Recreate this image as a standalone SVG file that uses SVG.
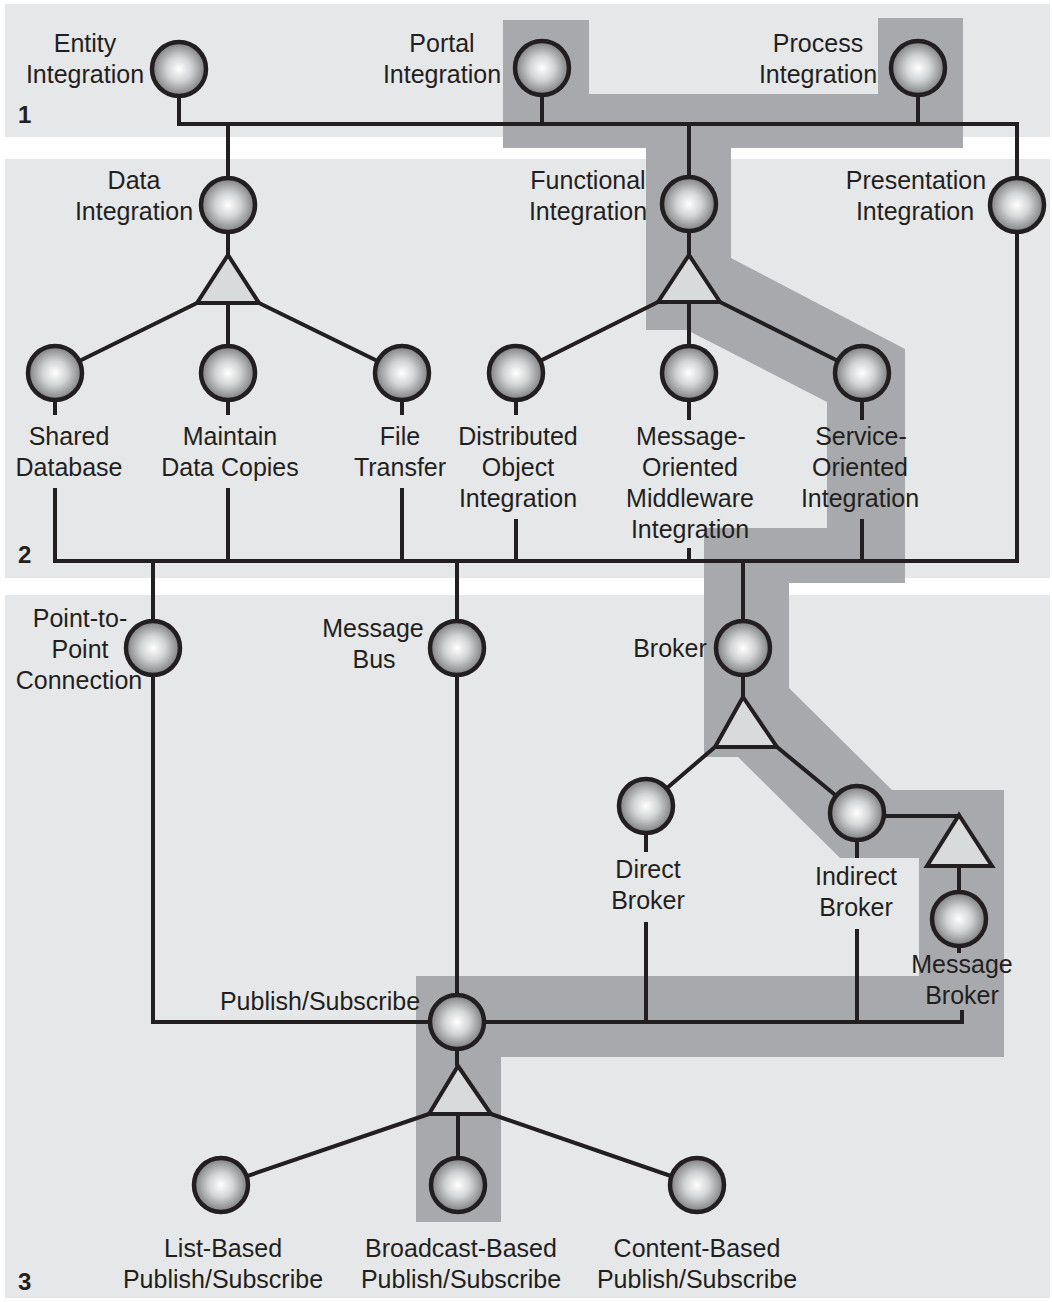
<svg xmlns="http://www.w3.org/2000/svg" width="1052" height="1302" viewBox="0 0 1052 1302">
<defs>
<radialGradient id="ball" cx="0.5" cy="0.5" r="0.5">
<stop offset="0" stop-color="#ffffff"/>
<stop offset="0.45" stop-color="#d3d4d5"/>
<stop offset="1" stop-color="#7c7d80"/>
</radialGradient>
<style>
.panel{fill:#e6e7e8}
.band{fill:#a7a9ac}
.ln{fill:none;stroke:#231f20;stroke-width:4;stroke-linejoin:miter}
.nd{fill:url(#ball);stroke:#231f20;stroke-width:4.5}
.tri{fill:#d9dadc;stroke:#231f20;stroke-width:4;stroke-linejoin:miter}
.t{font-family:"Liberation Sans",Arial,Helvetica,sans-serif;font-size:25px;fill:#231f20;text-anchor:middle}
.num{font-family:"Liberation Sans",Arial,Helvetica,sans-serif;font-size:24px;font-weight:bold;fill:#231f20}
</style>
</defs>
<rect width="1052" height="1302" fill="#ffffff"/>
<g id="panels">
<rect class="panel" x="5" y="4" width="1045" height="133"/>
<rect class="panel" x="5" y="159" width="1045" height="419"/>
<rect class="panel" x="5" y="595" width="1045" height="703"/>
</g>
<g id="highlight">
<polygon class="band" points="503,20 589,20 589,94 878,94 878,18 963,18 963,148 731,148 731,258 905,349 905,583 789,583 789,688 892,790 1004,790 1004,1057 501,1057 501,1222 416,1222 416,976 919,976 919,858 840,858 738,757 704,757 704,528 827,528 827,402 687,330 646,330 646,148 503,148"/>
</g>
<g id="connectors">
<path class="ln" d="M179,96 V124 H1017 V178"/>
<path class="ln" d="M542,96 V124 M918,96 V124 M228,124 V178 M689,124 V177"/>
<path class="ln" d="M228,232 V255 M197,303 L55,373 M228,303 V373 M259,303 L402,373"/>
<path class="ln" d="M689,231 V255 M658,302 L516,373 M689,302 V373 M720,302 L862,373"/>
<path class="ln" d="M55,400 V415 M228,400 V415 M402,400 V415 M516,400 V415 M689,400 V420 M862,400 V420"/>
<path class="ln" d="M55,488 V561 H1017 V232"/>
<path class="ln" d="M228,488 V561 M402,488 V561 M516,519 V561 M689,548 V561 M862,519 V561"/>
<path class="ln" d="M153,561 V1022 H962 V1010"/>
<path class="ln" d="M457,561 V1022"/>
<path class="ln" d="M743,561 V697 M715,747 L646,806 M777,747 L857,813"/>
<path class="ln" d="M857,816 H959 M959,866 V919 M959,946 V953"/>
<path class="ln" d="M646,833 V852 M646,922 V1022 M857,840 V858 M857,929 V1022"/>
<path class="ln" d="M457,1049 V1066 M429,1114 L221,1185 M458,1114 V1185 M491,1114 L697,1185"/>
</g>
<g id="triangles">
<polygon class="tri" points="228,255 259,303 197,303"/>
<polygon class="tri" points="689,255 720,302 658,302"/>
<polygon class="tri" points="743,697 777,747 715,747"/>
<polygon class="tri" points="959,815 992,866 927,866"/>
<polygon class="tri" points="458,1066 491,1114 429,1114"/>
</g>
<g id="entity-integration"><circle class="nd" cx="179" cy="69" r="27"/><text class="t" x="85" y="52">Entity</text><text class="t" x="85" y="83">Integration</text></g>
<g id="portal-integration"><circle class="nd" cx="542" cy="68" r="27"/><text class="t" x="442" y="52">Portal</text><text class="t" x="442" y="83">Integration</text></g>
<g id="process-integration"><circle class="nd" cx="918" cy="68" r="27"/><text class="t" x="818" y="52">Process</text><text class="t" x="818" y="83">Integration</text></g>
<g id="data-integration"><circle class="nd" cx="228" cy="205" r="27"/><text class="t" x="134" y="189">Data</text><text class="t" x="134" y="220">Integration</text></g>
<g id="functional-integration"><circle class="nd" cx="689" cy="204" r="27"/><text class="t" x="588" y="189">Functional</text><text class="t" x="588" y="220">Integration</text></g>
<g id="presentation-integration"><circle class="nd" cx="1017" cy="205" r="27"/><text class="t" x="916" y="189">Presentation</text><text class="t" x="915" y="220">Integration</text></g>
<g id="shared-database"><circle class="nd" cx="55" cy="373" r="27"/><text class="t" x="69" y="445">Shared</text><text class="t" x="69" y="476">Database</text></g>
<g id="maintain-data-copies"><circle class="nd" cx="228" cy="373" r="27"/><text class="t" x="230" y="445">Maintain</text><text class="t" x="230" y="476">Data Copies</text></g>
<g id="file-transfer"><circle class="nd" cx="402" cy="373" r="27"/><text class="t" x="400" y="445">File</text><text class="t" x="400" y="476">Transfer</text></g>
<g id="distributed-object-integration"><circle class="nd" cx="516" cy="373" r="27"/><text class="t" x="518" y="445">Distributed</text><text class="t" x="518" y="476">Object</text><text class="t" x="518" y="507">Integration</text></g>
<g id="message-oriented-middleware-integration"><circle class="nd" cx="689" cy="373" r="27"/><text class="t" x="691" y="445">Message-</text><text class="t" x="690" y="476">Oriented</text><text class="t" x="690" y="507">Middleware</text><text class="t" x="690" y="538">Integration</text></g>
<g id="service-oriented-integration"><circle class="nd" cx="862" cy="373" r="27"/><text class="t" x="861" y="445">Service-</text><text class="t" x="860" y="476">Oriented</text><text class="t" x="860" y="507">Integration</text></g>
<g id="point-to-point-connection"><circle class="nd" cx="153" cy="648" r="27"/><text class="t" x="80" y="627">Point-to-</text><text class="t" x="80" y="658">Point</text><text class="t" x="79" y="689">Connection</text></g>
<g id="message-bus"><circle class="nd" cx="457" cy="648" r="27"/><text class="t" x="373" y="637">Message</text><text class="t" x="374" y="668">Bus</text></g>
<g id="broker"><circle class="nd" cx="743" cy="648" r="27"/><text class="t" x="670" y="657">Broker</text></g>
<g id="direct-broker"><circle class="nd" cx="646" cy="806" r="27"/><text class="t" x="648" y="878">Direct</text><text class="t" x="648" y="909">Broker</text></g>
<g id="indirect-broker"><circle class="nd" cx="857" cy="813" r="27"/><text class="t" x="856" y="885">Indirect</text><text class="t" x="856" y="916">Broker</text></g>
<g id="message-broker"><circle class="nd" cx="959" cy="919" r="27"/><text class="t" x="962" y="973">Message</text><text class="t" x="962" y="1004">Broker</text></g>
<g id="publish-subscribe"><circle class="nd" cx="457" cy="1022" r="27"/><text class="t" x="320" y="1010">Publish/Subscribe</text></g>
<g id="list-based"><circle class="nd" cx="221" cy="1185" r="27"/><text class="t" x="223" y="1257">List-Based</text><text class="t" x="223" y="1288">Publish/Subscribe</text></g>
<g id="broadcast-based"><circle class="nd" cx="458" cy="1185" r="27"/><text class="t" x="461" y="1257">Broadcast-Based</text><text class="t" x="461" y="1288">Publish/Subscribe</text></g>
<g id="content-based"><circle class="nd" cx="697" cy="1185" r="27"/><text class="t" x="697" y="1257">Content-Based</text><text class="t" x="697" y="1288">Publish/Subscribe</text></g>
<g id="panel-numbers">
<text class="num" x="18" y="123">1</text>
<text class="num" x="18" y="563">2</text>
<text class="num" x="18" y="1290">3</text>
</g>
</svg>
